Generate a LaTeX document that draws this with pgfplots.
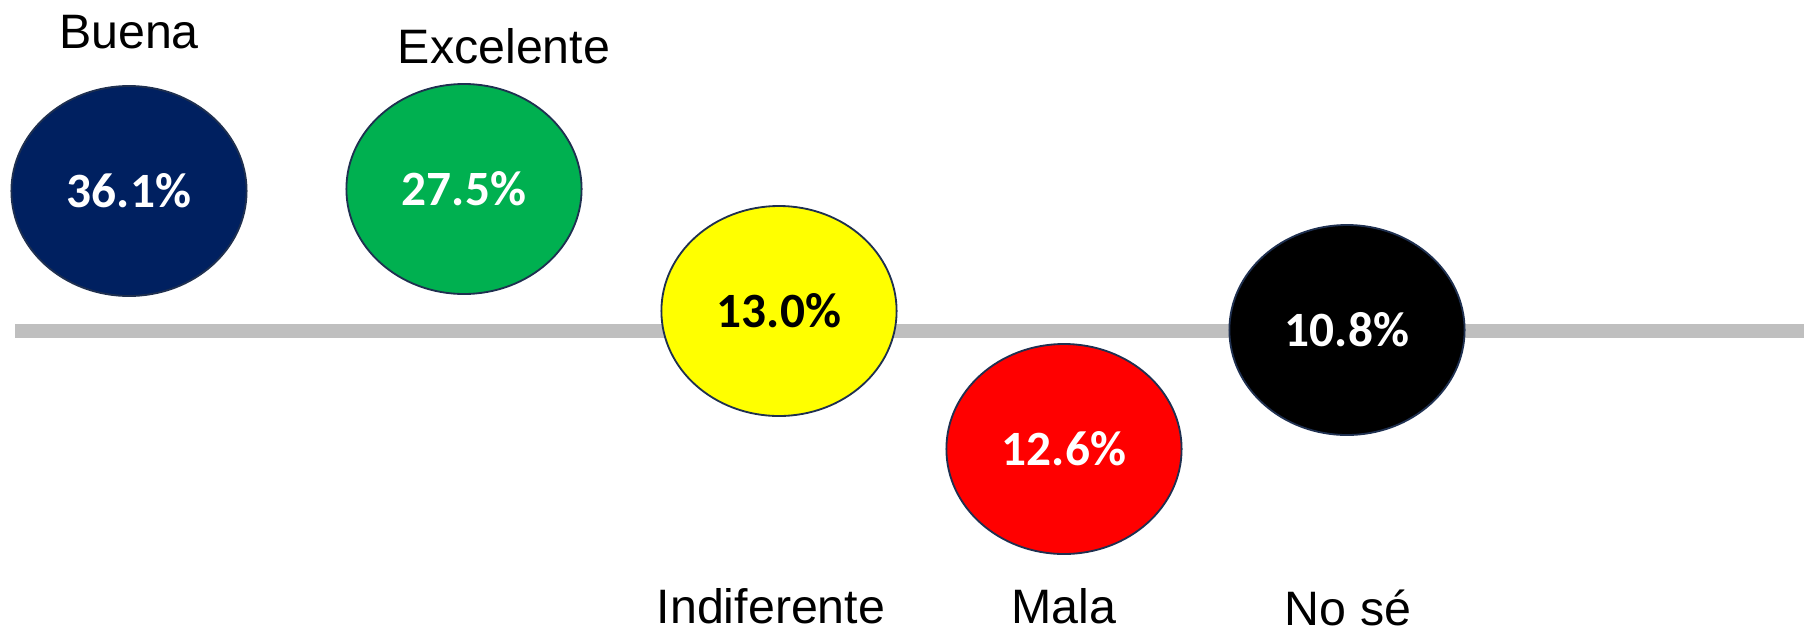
\documentclass[border=0pt]{standalone}
\usepackage{fontspec}
\setmainfont{Liberation Sans}
\newfontfamily\valfont{Carlito}
\usepackage{pgfplots}
\pgfplotsset{compat=1.18}

\definecolor{cNavy}{HTML}{002060}
\definecolor{cGreen}{HTML}{00B050}
\definecolor{cYellow}{HTML}{FFFF00}
\definecolor{cRed}{HTML}{FF0000}
\definecolor{cEdge}{HTML}{1F3050}
\definecolor{cLine}{HTML}{BFBFBF}

\pgfplotsset{
  bubble/.style={only marks,mark=*,mark size=31.5pt,
    mark options={xscale=1.12,fill=#1,draw=cEdge,line width=0.55pt},
    nodes near coords,point meta=explicit symbolic,
    nodes near coords style={anchor=center,
      font=\valfont\bfseries\fontsize{14.8}{17}\selectfont,text=white}},
  catlabel/.style={only marks,mark=none,nodes near coords,point meta=explicit symbolic,
    nodes near coords style={anchor=base,inner sep=0pt,font=\fontsize{14.5}{17}\selectfont,text=black}},
}

\begin{document}
\begin{tikzpicture}
\begin{axis}[
  x=0.3pt,y=0.3pt,
  xmin=0,xmax=1804,ymin=0,ymax=636,
  y dir=reverse,
  hide axis,clip=false,scale only axis,
]
% grey base line
\addplot[cLine,line width=4.2pt] coordinates {(15,331) (1804,331)};

% bubbles (pixel positions, value as label)
\addplot[bubble=cNavy] coordinates {(129,191) [36.1\%]};
\addplot[bubble=cGreen] coordinates {(464,189) [27.5\%]};
\addplot[bubble=cYellow,nodes near coords style={text=black}] coordinates {(779,311) [13.0\%]};
\addplot[bubble=cRed] coordinates {(1064,449) [12.6\%]};
\addplot[bubble=black] coordinates {(1347,330) [10.8\%]};

% category names
\addplot[catlabel] coordinates {
  (129,48) [Buena]
  (504,63) [Excelente]
  (771,623) [Indiferente]
  (1064,623) [Mala]
  (1348,625) [No sé]
};
\end{axis}
\pgfresetboundingbox
\useasboundingbox (current axis.south west) rectangle (current axis.north east);
\end{tikzpicture}
\end{document}
